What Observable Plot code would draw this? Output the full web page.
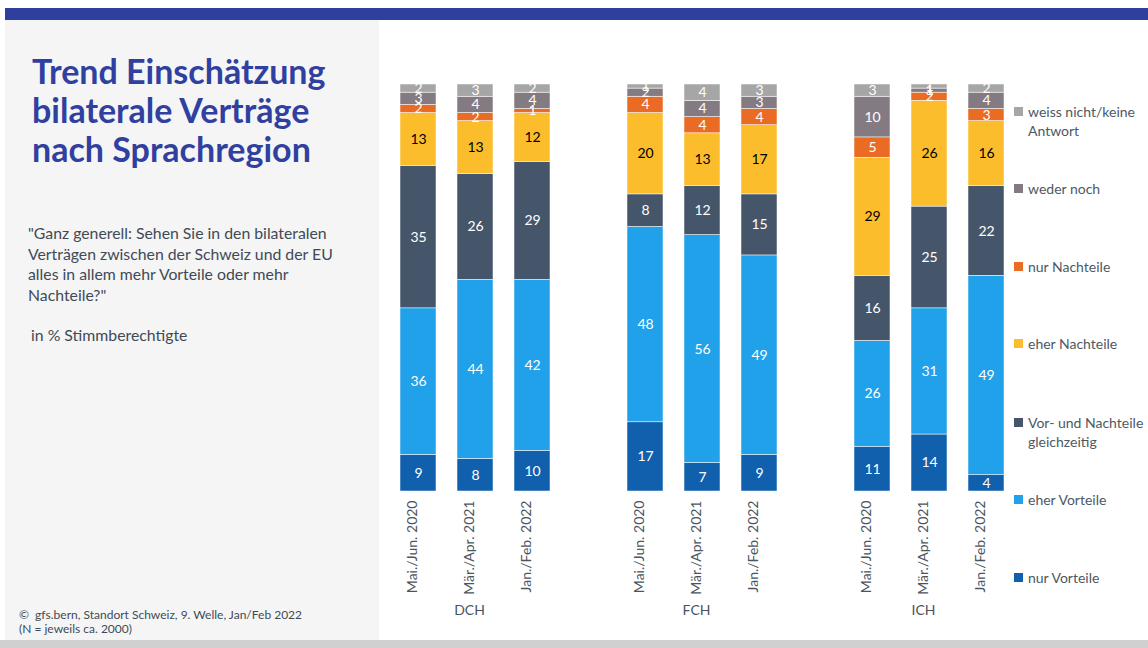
<!DOCTYPE html>
<html><head><meta charset="utf-8">
<script src="https://cdn.jsdelivr.net/npm/d3@7"></script>
<script src="https://cdn.jsdelivr.net/npm/@observablehq/plot@0.6"></script>
<style>
body{margin:0;width:1148px;height:648px;position:relative;overflow:hidden;background:#fff;font-family:Lato,"Open Sans",sans-serif;}
#topbar{position:absolute;left:5px;top:8px;width:1143px;height:12px;background:#2f3f9c;}
#panel{position:absolute;left:5px;top:20px;width:374px;height:620px;background:#f5f5f5;}
#bottombar{position:absolute;left:0;top:640px;width:1148px;height:8px;background:#d0d0d0;}
#title{position:absolute;left:32px;top:51px;margin:0;font-size:34px;line-height:39px;color:#3040a0;font-weight:bold;white-space:nowrap;}
#subtitle{position:absolute;left:28px;top:223px;margin:0;font-size:15.8px;line-height:20.7px;color:#3f4a55;white-space:nowrap;}
#unit{position:absolute;left:31px;top:325px;margin:0;font-size:15.8px;line-height:20px;color:#3f4a55;white-space:nowrap;}
#caption{position:absolute;left:19px;top:608px;margin:0;font-size:12px;line-height:14px;color:#3f4a55;white-space:nowrap;}
#chart{position:absolute;left:379px;top:20px;}
.lg{position:absolute;left:1014px;font-size:14px;line-height:19px;color:#4d5864;white-space:nowrap;}
.lg span{position:absolute;left:0;top:5px;width:9px;height:9px;}
.lg div{margin-left:14px;}
</style></head>
<body>
<div id="topbar"></div>
<div id="panel"></div>
<div id="bottombar"></div>
<h1 id="title">Trend Einschätzung<br>bilaterale Verträge<br>nach Sprachregion</h1>
<p id="subtitle">"Ganz generell: Sehen Sie in den bilateralen<br>Verträgen zwischen der Schweiz und der EU<br>alles in allem mehr Vorteile oder mehr<br>Nachteile?"</p>
<p id="unit">in % Stimmberechtigte</p>
<p id="caption">©&nbsp; gfs.bern, Standort Schweiz, 9. Welle, Jan/Feb 2022<br>(N = jeweils ca. 2000)</p>
<div id="chart"></div>
<div id="legend"></div>
<script>
const regions = ["DCH", "FCH", "ICH"];
const periods = ["Mai./Jun. 2020", "Mär./Apr. 2021", "Jan./Feb. 2022"];
const categories = ["nur Vorteile", "eher Vorteile", "Vor- und Nachteile gleichzeitig", "eher Nachteile", "nur Nachteile", "weder noch", "weiss nicht/keine Antwort"];
const colors = ["#1060ae", "#20a1e9", "#46566a", "#fbbd2b", "#ea6b24", "#847b82", "#a6a6a6"];
// values per bar: DCH 2020, 2021, 2022, FCH ..., ICH ...
const nurVorteile     = [9, 8, 10, 17, 7, 9, 11, 14, 4];
const eherVorteile    = [36, 44, 42, 48, 56, 49, 26, 31, 49];
const vorUndNachteile = [35, 26, 29, 8, 12, 15, 16, 25, 22];
const eherNachteile   = [13, 13, 12, 20, 13, 17, 29, 26, 16];
const nurNachteile    = [2, 2, 1, 4, 4, 4, 5, 2, 3];
const wederNoch       = [3, 4, 4, 2, 4, 3, 10, 1, 4];
const weissNicht      = [2, 3, 2, 1, 4, 3, 3, 1, 2];
const series = [nurVorteile, eherVorteile, vorUndNachteile, eherNachteile, nurNachteile, wederNoch, weissNicht];
const legendLabels = [["nur Vorteile"], ["eher Vorteile"], ["Vor- und Nachteile", "gleichzeitig"], ["eher Nachteile"], ["nur Nachteile"], ["weder noch"], ["weiss nicht/keine", "Antwort"]];

const data = [];
regions.forEach((r, ri) => periods.forEach((p, pi) => {
  const k = ri * 3 + pi;
  categories.forEach((c, ci) => data.push({region: r, period: p, category: c, value: series[ci][k]}));
}));

const chart = Plot.plot({
  width: 769, height: 620,
  marginTop: 64, marginBottom: 149, marginLeft: 10, marginRight: 134,
  style: {fontFamily: "Lato, sans-serif", fontSize: "14px", color: "#4a5560", background: "none", overflow: "visible"},
  fx: {domain: regions, paddingInner: 0.2467, paddingOuter: 0, axis: null, label: null},
  x: {domain: periods, paddingInner: 0.37, paddingOuter: 0.185, axis: null},
  y: {domain: [0, 100], axis: null},
  color: {domain: categories, range: colors},
  marks: [
    Plot.axisX({tickRotate: -90, tickSize: 0, tickPadding: 9, label: null, dx: -6, fontSize: 14}),
    Plot.barY(data, {fx: "region", x: "period", y: "value", fill: "category", stroke: "white", strokeWidth: 0.5}),
    Plot.text(data, Plot.stackY({fx: "region", x: "period", y: "value", z: "category", text: d => d.category === "eher Nachteile" ? null : String(d.value), fill: "white", fontSize: 14})),
    Plot.text(data, Plot.stackY({fx: "region", x: "period", y: "value", z: "category", text: d => d.category === "eher Nachteile" ? String(d.value) : null, fill: "black", fontSize: 14})),
    Plot.text(regions.map(r => ({region: r})), {fx: "region", x: () => periods[1], y: () => 0, text: "region", dy: 119, dx: -6, fill: "#4a5560", fontSize: 14})
  ]
});
document.getElementById("chart").appendChild(chart);

const lgTops = [577, 499, 422, 343, 266, 188, 111];
const lg = document.getElementById("legend");
categories.forEach((c, i) => {
  const item = document.createElement("div");
  item.className = "lg";
  item.style.top = (lgTops[i] - 9.5) + "px";
  item.innerHTML = `<span style="background:${colors[i]}"></span><div>${legendLabels[i].join("<br>")}</div>`;
  lg.appendChild(item);
});
</script>
</body></html>
